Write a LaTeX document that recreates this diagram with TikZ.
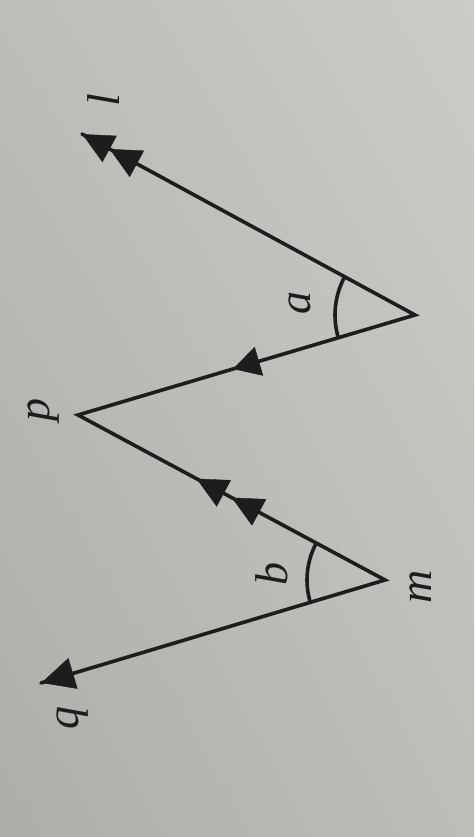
\documentclass[tikz,border=0pt]{standalone}
\usepackage{fontspec}
\setmainfont{Liberation Serif}
\usetikzlibrary{arrows.meta,decorations.markings,angles,shadings}
\definecolor{ink}{RGB}{30,28,28}
\definecolor{bgA}{RGB}{204,203,199}
\definecolor{bgB}{RGB}{190,189,185}
\definecolor{bgC}{RGB}{174,173,169}
\tikzset{
  seg/.style={draw=ink, line width=3.6pt, line cap=round, line join=miter},
  lab/.style={rotate=90, text=ink, font=\fontsize{46}{50}\selectfont\itshape, inner sep=0pt},
  arcmark/.style={draw=ink, line width=3.6pt}
}
\begin{document}
\begin{tikzpicture}[x=1pt,y=1pt]
\useasboundingbox (0,0) rectangle (474,837);
\shade[upper left=bgB, upper right=bgA, lower left=bgC, lower right=bgB] (0,0) rectangle (474,837);
% vertices
\coordinate (A) at (415,522);
\coordinate (L) at (82,703);
\coordinate (P) at (78,422);
\coordinate (M) at (385,257);
\coordinate (Q) at (41,154);
% angle arcs
\pic[arcmark, angle radius=80pt] {angle = L--A--P};
\pic[arcmark, angle radius=78pt] {angle = P--M--Q};
% segments
\draw[seg] (L) -- (A) -- (P) -- (M) -- (Q);
% arrowheads
\path[postaction={decorate}, decoration={markings,
   mark=at position 0.917 with {\arrow[ink]{Triangle[length=31pt,width=30pt]}},
   mark=at position 0.999 with {\arrow[ink]{Triangle[length=31pt,width=30pt]}}}]
   (A) -- (L);
\path[postaction={decorate}, decoration={markings,
   mark=at position 0.54 with {\arrow[ink]{Triangle[length=27pt,width=30pt]}}}]
   (A) -- (P);
\path[postaction={decorate}, decoration={markings,
   mark=at position 0.499 with {\arrow[ink]{Triangle[length=31pt,width=30pt]}},
   mark=at position 0.614 with {\arrow[ink]{Triangle[length=31pt,width=30pt]}}}]
   (M) -- (P);
\path[postaction={decorate}, decoration={markings,
   mark=at position 0.999 with {\arrow[ink]{Triangle[length=33pt,width=32pt]}}}]
   (M) -- (Q);
% labels
\node[lab] (ll) at (104,737) {l};
\node[lab] (la) at (300,534) {a};
\node[lab] (lp) at (44,427) {p};
\node[lab] (lb) at (272,263) {b};
\node[lab] (lm) at (421,250) {m};
\node[lab] (lq) at (73,119) {q};
\end{tikzpicture}
\end{document}
